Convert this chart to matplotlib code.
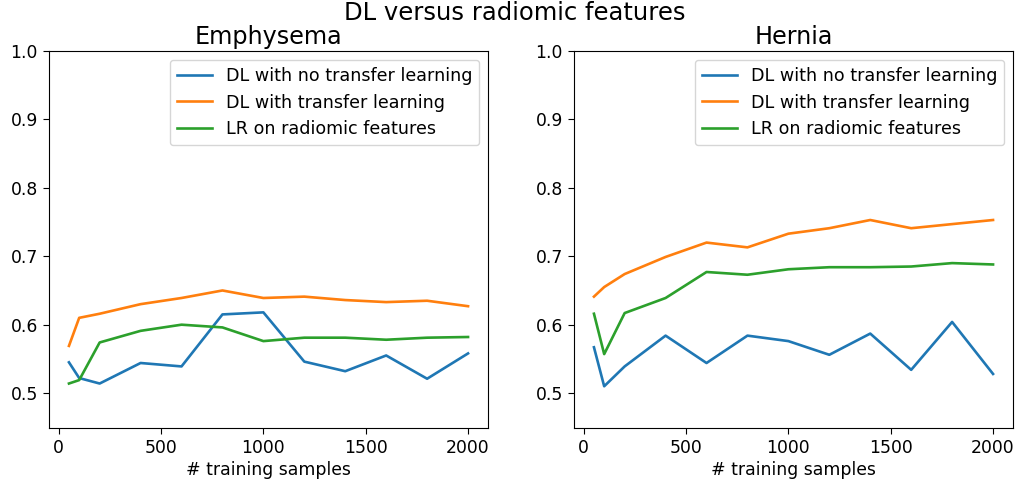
import matplotlib
matplotlib.use("Agg")
import matplotlib.pyplot as plt

samples = [50, 100, 200, 400, 600, 800, 1000, 1200, 1400, 1600, 1800, 2000]

emph_no_tl = [0.545, 0.522, 0.514, 0.544, 0.539, 0.615, 0.618, 0.546, 0.532, 0.555, 0.521, 0.558]
emph_tl = [0.569, 0.610, 0.616, 0.630, 0.639, 0.650, 0.639, 0.641, 0.636, 0.633, 0.635, 0.627]
emph_lr = [0.514, 0.519, 0.574, 0.591, 0.600, 0.596, 0.576, 0.581, 0.581, 0.578, 0.581, 0.582]

hern_no_tl = [0.567, 0.510, 0.539, 0.584, 0.544, 0.584, 0.576, 0.556, 0.587, 0.534, 0.604, 0.528]
hern_tl = [0.641, 0.655, 0.674, 0.699, 0.720, 0.713, 0.733, 0.741, 0.753, 0.741, 0.747, 0.753]
hern_lr = [0.616, 0.557, 0.617, 0.639, 0.677, 0.673, 0.681, 0.684, 0.684, 0.685, 0.690, 0.688]

labels = ["DL with no transfer learning", "DL with transfer learning", "LR on radiomic features"]
titles = ["Emphysema", "Hernia"]
suptitle = "DL versus radiomic features"
xlabel = "# training samples"

W, H = 1016, 484
fig = plt.figure(figsize=(W / 100, H / 100), dpi=100)

axes_px = [(49, 488, 51, 428), (574, 1013, 51, 428)]
data = [(emph_no_tl, emph_tl, emph_lr), (hern_no_tl, hern_tl, hern_lr)]

for (l, r, t, b), series, title in zip(axes_px, data, titles):
    ax = fig.add_axes([l / W, 1 - b / H, (r - l) / W, (b - t) / H])
    for s, lab in zip(series, labels):
        ax.plot(samples, s, label=lab, lw=1.9)
    ax.set_ylim(0.449, 1.0)
    ax.set_yticks([0.5, 0.6, 0.7, 0.8, 0.9, 1.0])
    ax.set_xticks([0, 500, 1000, 1500, 2000])
    ax.tick_params(labelsize=12.4, length=4.5)
    ax.set_xlabel(xlabel, fontsize=12.4, labelpad=3)
    ax.set_title(title, fontsize=17.2, pad=5)
    ax.legend(loc="upper right", fontsize=12.6, borderaxespad=0.5)

fig.suptitle(suptitle, fontsize=17.5, x=0.507, y=0.998)

fig.savefig("out.png", dpi=100)
